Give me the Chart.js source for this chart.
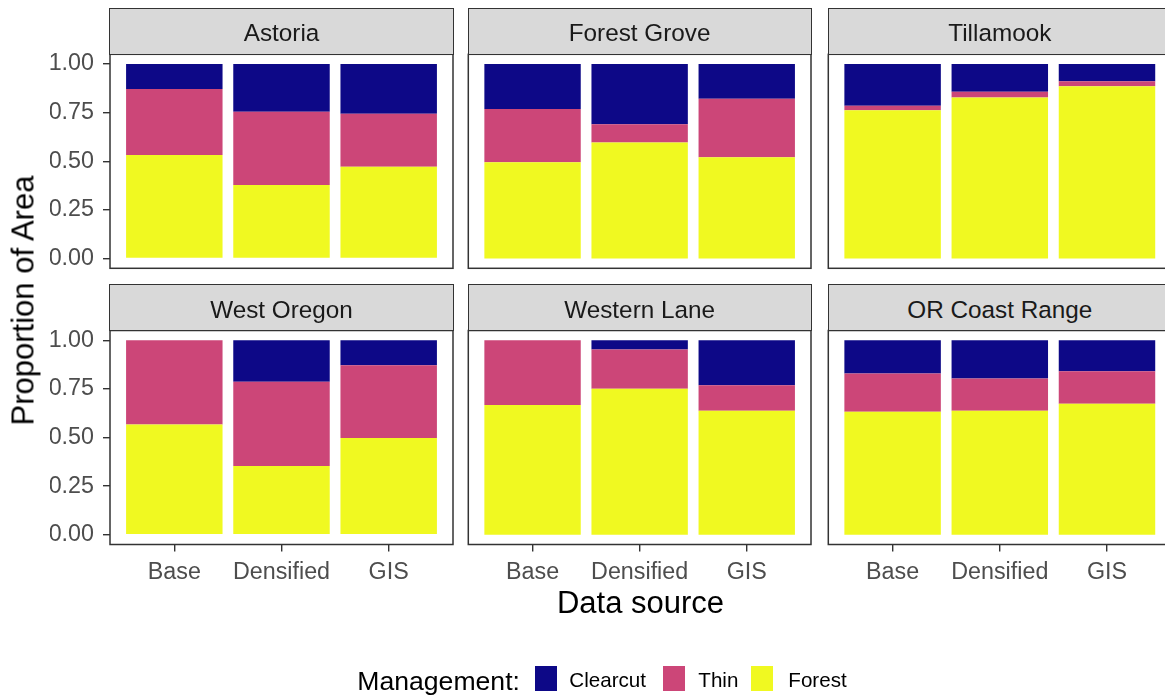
<!DOCTYPE html>
<html><head><meta charset="utf-8">
<script src="https://cdn.jsdelivr.net/npm/chart.js@4.4.1/dist/chart.umd.min.js"></script>
<style>
html,body{margin:0;padding:0;background:#fff;overflow:hidden;width:1165px;height:698px;}
body{position:relative;font-family:'Liberation Sans',Arial,sans-serif;}
canvas{position:absolute;left:0;top:0;}
.strip{position:absolute;box-sizing:border-box;background:#D9D9D9;border:1.5px solid #333333;color:#1A1A1A;font-size:24.3px;white-space:nowrap;}
.strip span{position:absolute;left:0;right:0;top:12.6px;line-height:1;text-align:center;}
.lbl{position:absolute;white-space:nowrap;line-height:1;color:#000;}
.key{position:absolute;}
</style></head><body>
<script>
// ---- data ----
const regions = ['Astoria','Forest Grove','Tillamook','West Oregon','Western Lane','OR Coast Range'];
const sources = ['Base','Densified','GIS'];
const managementLabels = ['Clearcut','Thin','Forest'];
const forestShare   = [[0.533,0.378,0.472],[0.495,0.597,0.521],[0.762,0.828,0.886],[0.567,0.353,0.497],[0.667,0.750,0.638],[0.633,0.638,0.674]];
const thinShare     = [[0.338,0.377,0.273],[0.274,0.093,0.301],[0.024,0.029,0.026],[0.433,0.433,0.374],[0.333,0.202,0.131],[0.196,0.165,0.166]];
const clearcutShare = [[0.129,0.245,0.255],[0.231,0.310,0.178],[0.214,0.143,0.088],[0.000,0.214,0.129],[0.000,0.048,0.231],[0.171,0.197,0.160]];
const yTicks = [0, 0.25, 0.5, 0.75, 1];

// ---- styles / layout ----
const colors = {Clearcut:'#0D0887', Thin:'#CC4678', Forest:'#F0F921'};
const colL = [110, 468.3, 828.3], colR = [453, 811, 1171.3];
const stripTop = [8.3, 285], panelTop = [54.3, 330.5], panelBot = [268.3, 544.5];
const CW = 1180, CH = 698, Y_AXIS_W = 60, X_AXIS_H = 40;
const LINE_W = 1.5;

Chart.defaults.font.family = "'Liberation Sans', Arial, sans-serif";

const panelBorder = {
  id: 'panelBorder',
  afterDraw(chart) {
    const a = chart.chartArea, ctx = chart.ctx;
    ctx.save();
    ctx.strokeStyle = '#333333';
    ctx.lineWidth = LINE_W;
    ctx.strokeRect(a.left, a.top, a.right - a.left, a.bottom - a.top);
    ctx.restore();
  }
};

function series(label, arr, p) {
  return {
    label: label,
    data: arr[p].map((v, i) => ({x: i + 1, y: v})),
    backgroundColor: colors[label],
    borderWidth: 0,
    barPercentage: 0.9,
    categoryPercentage: 1.0
  };
}

const axisGrid = {display: true, offset: false, drawOnChartArea: false, drawTicks: true, tickLength: 7, color: '#333333', lineWidth: 1.4};

regions.forEach((name, p) => {
  const c = p % 3, r = Math.floor(p / 3);
  const showX = r === 1, showY = c === 0;
  const cv = document.createElement('canvas');
  cv.width = CW; cv.height = CH;
  cv.style.width = CW + 'px'; cv.style.height = CH + 'px';
  document.body.appendChild(cv);
  new Chart(cv, {
    type: 'bar',
    data: {
      datasets: [
        series('Forest', forestShare, p),
        series('Thin', thinShare, p),
        series('Clearcut', clearcutShare, p)
      ]
    },
    options: {
      responsive: false,
      animation: false,
      events: [],
      layout: {padding: {
        left: showY ? colL[c] - Y_AXIS_W : colL[c],
        right: CW - colR[c],
        top: panelTop[r],
        bottom: showX ? CH - panelBot[r] - X_AXIS_H : CH - panelBot[r]
      }},
      plugins: {legend: {display: false}, tooltip: {enabled: false}, title: {display: false}},
      scales: {
        x: {
          type: 'linear', min: 0.4, max: 3.6, offset: false, stacked: true, display: showX,
          afterBuildTicks: s => { s.ticks = sources.map((_, i) => ({value: i + 1})); },
          afterFit: s => { s.height = showX ? X_AXIS_H : 0; },
          grid: axisGrid, border: {display: false},
          ticks: {font: {size: 23.3}, color: '#4D4D4D', padding: 7, maxRotation: 0, autoSkip: false,
                  callback: v => sources[Math.round(v) - 1] || ''}
        },
        y: {
          type: 'linear', min: -0.05, max: 1.05, stacked: true, display: showY,
          afterBuildTicks: s => { s.ticks = yTicks.map(v => ({value: v})); },
          afterFit: s => { s.width = showY ? Y_AXIS_W : 0; },
          grid: axisGrid, border: {display: false},
          ticks: {font: {size: 23.3}, color: '#4D4D4D', padding: 9, callback: v => Number(v).toFixed(2)}
        }
      }
    },
    plugins: [panelBorder]
  });
  const st = document.createElement('div');
  st.className = 'strip';
  st.style.left = (colL[c] - LINE_W / 2) + 'px';
  st.style.top = (stripTop[r] - LINE_W / 2) + 'px';
  st.style.width = (colR[c] - colL[c] + LINE_W) + 'px';
  st.style.height = (panelTop[r] - stripTop[r] + LINE_W) + 'px';
  const sp = document.createElement('span');
  sp.textContent = name;
  st.appendChild(sp);
  document.body.appendChild(st);
});

function addLabel(text, left, top, size, extra) {
  const d = document.createElement('div');
  d.className = 'lbl';
  d.textContent = text;
  d.style.left = left + 'px'; d.style.top = top + 'px'; d.style.fontSize = size + 'px';
  if (extra) Object.assign(d.style, extra);
  document.body.appendChild(d);
  return d;
}
// axis titles
addLabel('Proportion of Area', 22.5 - 200, 300 - 15.5, 31, {width: '400px', textAlign: 'center', transform: 'rotate(-90deg)'});
addLabel('Data source', 640.5 - 200, 587, 31, {width: '400px', textAlign: 'center'});
// legend
addLabel('Management:', 357.3, 667.5, 26.6);
const keyLeft = [535, 662.7, 750.7], textLeft = [569.3, 698.3, 788.3];
managementLabels.forEach((m, i) => {
  const k = document.createElement('div');
  k.className = 'key';
  k.style.left = keyLeft[i] + 'px'; k.style.top = '666px';
  k.style.width = '22px'; k.style.height = '24.5px';
  k.style.background = colors[m];
  document.body.appendChild(k);
  addLabel(m, textLeft[i], 670.3, 20.6);
});
</script>
</body></html>
